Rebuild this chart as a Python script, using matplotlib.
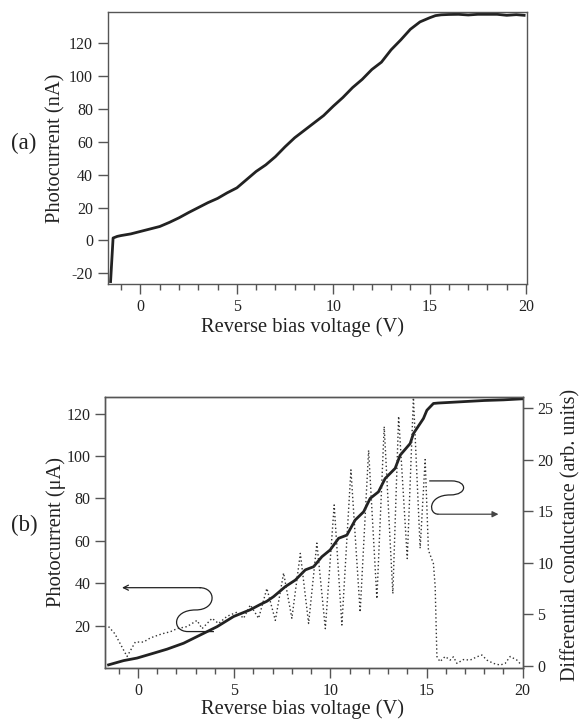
import matplotlib
matplotlib.use("Agg")
import matplotlib.pyplot as plt
from matplotlib.path import Path
from matplotlib.patches import PathPatch
from matplotlib.ticker import MultipleLocator

plt.rcParams['font.family'] = ['Liberation Serif', 'DejaVu Serif']
plt.rcParams['mathtext.fontset'] = 'stix'
plt.rcParams['axes.unicode_minus'] = False

# ---- data panel (a) ----
va = [-1.55, -1.42, -1.2, -1.0, -0.5, 0, 0.5, 1, 1.5, 2, 2.5, 3, 3.5, 4, 4.5, 5, 5.5,
      6, 6.5, 7, 7.5, 8, 8.5, 9, 9.5, 10, 10.5, 11, 11.5, 12, 12.5, 13, 13.5, 14, 14.5,
      15, 15.3, 15.6, 16, 16.5, 17, 17.5, 18, 18.5, 19, 19.5, 19.9]
ia = [-25, 1.5, 2.5, 3, 4, 5.5, 7, 8.5, 11, 13.8, 17, 20, 23, 25.6, 29, 32, 37,
      42, 46, 51, 57, 62.5, 67, 71.5, 76, 81.7, 87, 93, 98, 104, 108.5, 116, 122, 128.5, 133,
      135.5, 136.8, 137.3, 137.5, 137.6, 137.2, 137.6, 137.6, 137.6, 137.0, 137.4, 137.0]

# ---- data panel (b): photocurrent ----
vb = [-1.53, -0.75, -0.05, 0.81, 1.51, 2.37, 3.24, 4.11, 4.97, 5.84, 6.36, 6.7, 7.05, 7.66,
      8.18, 8.70, 9.13, 9.56, 9.99, 10.43, 10.86, 11.29, 11.73, 12.07, 12.5, 12.85, 13.37,
      13.63, 14.15, 14.32, 14.84, 15.02, 15.36, 15.6, 16, 17, 18, 19, 20]
ib = [1.5, 3.5, 4.7, 7, 8.9, 11.7, 15.6, 19.5, 24.3, 27.5, 30, 31.5, 33.7, 38.4,
      41.5, 46.3, 47.8, 52.5, 55.7, 61.2, 62.7, 69.8, 73.7, 80, 83.1, 89.4, 94.2,
      100.4, 105.9, 110.6, 117.7, 121.6, 124.8, 125.0, 125.2, 125.7, 126.2, 126.5, 127.0]

# ---- data panel (b): differential conductance ----
vd = [-1.53, -1.2, -0.57, -0.14, 0.29, 0.64, 1.25, 1.68, 2.03, 2.55, 3.07, 3.33, 3.85, 4.19,
      4.63, 5.15, 5.49, 5.84, 6.27, 6.7, 7.14, 7.57, 8.0, 8.44, 8.87, 9.3, 9.74, 10.2, 10.6,
      11.07, 11.55, 11.99, 12.42, 12.8, 13.25, 13.55, 14.0, 14.32, 14.67, 14.93, 15.1, 15.36,
      15.45, 15.54, 15.7, 15.97, 16.23, 16.4, 16.58, 16.92, 17.27, 17.62, 17.88, 18.14, 18.48,
      18.83, 19.09, 19.35, 19.7, 19.87]
gd = [3.8, 3.1, 0.9, 2.3, 2.3, 2.7, 3.1, 3.3, 3.6, 3.8, 4.4, 3.6, 4.6, 4.1,
      4.8, 5.2, 4.6, 5.9, 4.6, 7.5, 4.4, 9.0, 4.6, 10.9, 4.1, 11.9, 3.6, 15.6, 3.95,
      19.0, 5.2, 20.9, 6.5, 23.2, 7.0, 24.2, 10.4, 26.0, 11.4, 20.0, 11.2, 9.9,
      7.7, 0.9, 0.4, 0.9, 0.55, 0.87, 0.23, 0.6, 0.55, 0.87, 1.04, 0.55, 0.23,
      0.07, 0.23, 0.9, 0.55, 0.2]

xticks = [0, 5, 10, 15, 20]
yticks_a = [-20, 0, 20, 40, 60, 80, 100, 120]
yticks_b = [20, 40, 60, 80, 100, 120]
yticks_b2 = [0, 5, 10, 15, 20, 25]

SPINE = '#555555'
LINE = '#222222'
TXT = '#222222'
TICKSIZE = 11.5
LABELSIZE = 14.8

fig = plt.figure(figsize=(5.84, 7.24), dpi=100)

def spines(ax):
    for s in ax.spines.values():
        s.set_color(SPINE)
        s.set_linewidth(1.0)

def style(ax):
    spines(ax)
    ax.set_xticks(xticks)
    ax.xaxis.set_minor_locator(MultipleLocator(1))
    ax.tick_params(axis='both', which='major', direction='out', color=SPINE,
                   labelcolor=TXT, labelsize=TICKSIZE, width=1.0, length=7, pad=3.5)
    ax.tick_params(axis='x', which='minor', direction='out', color=SPINE,
                   width=1.0, length=4)

# ---- panel (a) ----
ax1 = fig.add_axes([0.1844, 0.6077, 0.718, 0.3757])
ax1.plot(va, ia, color=LINE, lw=2.0, solid_joinstyle='round')
ax1.set_xlim(-1.7, 20.05)
ax1.set_ylim(-26.5, 139)
ax1.set_yticks(yticks_a)
style(ax1)
ax1.set_xlabel('Reverse bias voltage (V)', fontsize=LABELSIZE, color=TXT)
ax1.set_ylabel('Photocurrent (nA)', fontsize=LABELSIZE, color=TXT)
ax1.xaxis.set_label_coords(0.4646, -0.122)
ax1.yaxis.set_label_coords(-0.0995, 0.5)
fig.text(0.041, 1 - 143 / 724, '(a)', fontsize=16.5, ha='center', va='center', color=TXT)

# ---- panel (b) ----
ax2 = fig.add_axes([0.1803, 0.0773, 0.7147, 0.3748])
ax3 = ax2.twinx()
ax2.plot(vb, ib, color=LINE, lw=2.0, solid_joinstyle='round', zorder=3)
ax3.plot(vd, gd, color='#333333', lw=1.0, linestyle=(0, (1, 1.8)))
ax2.set_xlim(-1.7, 20.0)
ax2.set_ylim(0, 128)
ax3.set_ylim(-0.22, 26.1)
ax2.set_yticks(yticks_b)
ax3.set_yticks(yticks_b2)
style(ax2)
spines(ax3)
ax3.tick_params(axis='y', which='major', direction='out', color=SPINE, labelcolor=TXT,
                labelsize=TICKSIZE, width=1.0, length=7, pad=3.5)
ax2.set_xlabel('Reverse bias voltage (V)', fontsize=LABELSIZE, color=TXT)
ax2.set_ylabel('Photocurrent (μA)', fontsize=LABELSIZE, color=TXT)
ax3.set_ylabel('Differential conductance (arb. units)', fontsize=14.5, color=TXT)
ax2.xaxis.set_label_coords(0.472, -0.116)
ax2.yaxis.set_label_coords(-0.094, 0.5)
ax3.yaxis.set_label_coords((561 - 105.3) / 417.4, 0.49)
fig.text(0.041, 1 - 525 / 724, '(b)', fontsize=16.5, ha='center', va='center', color=TXT)

# curly arrow pointing left (photocurrent axis)
codes = [Path.MOVETO, Path.LINETO,
         Path.CURVE4, Path.CURVE4, Path.CURVE4,
         Path.CURVE4, Path.CURVE4, Path.CURVE4]
verts = [(3.95, 17.2), (2.6, 17.2),
         (1.75, 17.2), (1.75, 27.4), (3.0, 27.4),
         (4.1, 27.4), (4.1, 37.9), (3.2, 37.9)]
ax2.add_patch(PathPatch(Path(verts, codes), fill=False, lw=0.9, color='#222222'))
ax2.annotate('', xy=(-0.83, 37.9), xytext=(3.25, 37.9),
             arrowprops=dict(arrowstyle='->', lw=0.9, color='#222222',
                             shrinkA=0, shrinkB=0, mutation_scale=9))

# curly arrow pointing right (conductance axis)
verts2 = [(15.14, 17.93), (16.3, 17.93),
          (17.15, 17.93), (17.15, 16.57), (16.23, 16.57),
          (15.07, 16.57), (15.07, 14.7), (15.62, 14.7)]
ax3.add_patch(PathPatch(Path(verts2, codes), fill=False, lw=0.9, color='#222222'))
ax3.annotate('', xy=(18.74, 14.7), xytext=(15.6, 14.7),
             arrowprops=dict(arrowstyle='-|>', lw=0.9, color='#444444',
                             shrinkA=0, shrinkB=0, mutation_scale=9))

fig.savefig('out.png', dpi=100)
